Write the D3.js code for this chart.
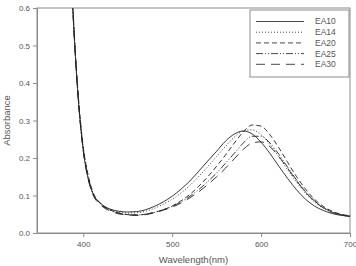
<!DOCTYPE html>
<html>
<head>
<meta charset="utf-8">
<script src="https://cdn.jsdelivr.net/npm/d3@7"></script>
<style>
  body { margin: 0; background: #fff; }
  svg { display: block; font-family: "Liberation Sans", Arial, sans-serif; }
</style>
</head>
<body>
<svg id="chart" width="356" height="266"></svg>
<script>
// wavelength grid (nm)
const wavelengths = [386, 388, 390, 392, 395, 400, 405, 410, 420, 430, 440, 450, 460, 470, 480, 490, 500,
    510, 520, 530, 540, 550, 560, 570, 580, 590, 600, 610, 620, 630, 640, 650, 660, 670, 680, 690, 700];

const ea10 = [0.70, 0.61, 0.52, 0.44, 0.34, 0.22, 0.15, 0.11, 0.078, 0.064, 0.058, 0.056, 0.057, 0.062, 0.071, 0.083, 0.098,
    0.117, 0.139, 0.165, 0.192, 0.218, 0.245, 0.264, 0.272, 0.264, 0.242, 0.212, 0.178, 0.145, 0.115, 0.090, 0.072, 0.060, 0.052, 0.047, 0.045];
const ea14 = [0.70, 0.61, 0.52, 0.44, 0.34, 0.225, 0.155, 0.112, 0.078, 0.063, 0.056, 0.053, 0.054, 0.058, 0.066, 0.077, 0.090,
    0.107, 0.127, 0.151, 0.177, 0.204, 0.231, 0.256, 0.272, 0.275, 0.262, 0.236, 0.203, 0.168, 0.135, 0.106, 0.083, 0.066, 0.055, 0.048, 0.045];
const ea20 = [0.70, 0.62, 0.53, 0.45, 0.35, 0.23, 0.16, 0.115, 0.078, 0.062, 0.053, 0.049, 0.048, 0.050, 0.055, 0.062, 0.072,
    0.086, 0.103, 0.125, 0.150, 0.178, 0.208, 0.240, 0.270, 0.288, 0.285, 0.262, 0.227, 0.188, 0.150, 0.117, 0.090, 0.071, 0.058, 0.050, 0.046];
const ea25 = [0.70, 0.61, 0.52, 0.44, 0.34, 0.225, 0.155, 0.112, 0.076, 0.061, 0.053, 0.049, 0.048, 0.050, 0.055, 0.062, 0.071,
    0.083, 0.098, 0.116, 0.137, 0.160, 0.186, 0.213, 0.240, 0.258, 0.258, 0.240, 0.210, 0.175, 0.141, 0.110, 0.086, 0.068, 0.056, 0.049, 0.045];
const ea30 = [0.70, 0.61, 0.52, 0.44, 0.34, 0.22, 0.15, 0.108, 0.074, 0.059, 0.051, 0.048, 0.047, 0.049, 0.054, 0.061, 0.069,
    0.080, 0.094, 0.110, 0.129, 0.150, 0.173, 0.198, 0.223, 0.240, 0.243, 0.230, 0.204, 0.172, 0.139, 0.109, 0.085, 0.067, 0.055, 0.048, 0.044];

const seriesNames = ["EA10", "EA14", "EA20", "EA25", "EA30"];
const seriesValues = [ea10, ea14, ea20, ea25, ea30];
const dashes = ["none", "1,2", "5,3", "7,2,1,2,1,2", "9,6"];

const xTicks = [400, 500, 600, 700];
const yTicks = [0.0, 0.1, 0.2, 0.3, 0.4, 0.5, 0.6];

const margin = { top: 8, right: 6, bottom: 33, left: 37 };
const svg = d3.select("#chart");
const width = +svg.attr("width");
const height = +svg.attr("height");

const x = d3.scaleLinear().domain([348, 700]).range([margin.left, width - margin.right]);
const y = d3.scaleLinear().domain([0, 0.6]).range([height - margin.bottom, margin.top]);

const axisColor = "#8c8c8c";
const textColor = "#555";

svg.append("defs").append("clipPath").attr("id", "plotClip")
    .append("rect")
    .attr("x", x.range()[0]).attr("y", y.range()[1])
    .attr("width", x.range()[1] - x.range()[0])
    .attr("height", y.range()[0] - y.range()[1]);

// frame
svg.append("rect")
    .attr("x", x.range()[0]).attr("y", y.range()[1])
    .attr("width", x.range()[1] - x.range()[0])
    .attr("height", y.range()[0] - y.range()[1])
    .attr("fill", "none").attr("stroke", axisColor).attr("stroke-width", 1);

// axes
const xAxis = svg.append("g")
    .attr("transform", `translate(0,${y.range()[0]})`)
    .call(d3.axisBottom(x).tickValues(xTicks).tickSize(4).tickPadding(4).tickSizeOuter(0));
const yAxis = svg.append("g")
    .attr("transform", `translate(${x.range()[0]},0)`)
    .call(d3.axisLeft(y).tickValues(yTicks).tickSize(4).tickPadding(3).tickSizeOuter(0).tickFormat(d3.format(".1f")));

[xAxis, yAxis].forEach(a => {
    a.select(".domain").attr("stroke", axisColor);
    a.selectAll(".tick line").attr("stroke", axisColor);
    a.selectAll(".tick text").attr("fill", textColor).attr("font-size", 8)
        .attr("font-family", "'Liberation Sans', Arial, sans-serif");
});

// axis titles
svg.append("text")
    .attr("x", (x.range()[0] + x.range()[1]) / 2)
    .attr("y", 263)
    .attr("text-anchor", "middle")
    .attr("font-size", 9.5)
    .attr("fill", textColor)
    .text("Wavelength(nm)");

svg.append("text")
    .attr("transform", `translate(10,${(y.range()[0] + y.range()[1]) / 2}) rotate(-90)`)
    .attr("text-anchor", "middle")
    .attr("font-size", 9.5)
    .attr("fill", textColor)
    .text("Absorbance");

// curves
const line = d3.line()
    .x((d, i) => x(wavelengths[i]))
    .y(d => y(d))
    .curve(d3.curveMonotoneX);

svg.append("g")
    .attr("clip-path", "url(#plotClip)")
    .selectAll("path")
    .data(seriesValues)
    .enter().append("path")
    .attr("d", d => line(d))
    .attr("fill", "none")
    .attr("stroke", "#222")
    .attr("stroke-width", 0.9)
    .attr("stroke-dasharray", (d, i) => dashes[i]);

// legend
const legend = svg.append("g").attr("transform", "translate(250,10)");
legend.append("rect")
    .attr("width", 99).attr("height", 67)
    .attr("fill", "#fff").attr("stroke", axisColor).attr("stroke-width", 1);

const item = legend.selectAll(".item")
    .data(seriesNames)
    .enter().append("g")
    .attr("class", "item")
    .attr("transform", (d, i) => `translate(0,${11.5 + i * 10.7})`);

item.append("line")
    .attr("x1", 6).attr("x2", 54)
    .attr("stroke", "#333").attr("stroke-width", 0.9)
    .attr("stroke-dasharray", (d, i) => dashes[i]);

item.append("text")
    .attr("x", 65).attr("dy", "0.35em")
    .attr("font-size", 8.5)
    .attr("fill", textColor)
    .text(d => d);
</script>
</body>
</html>
